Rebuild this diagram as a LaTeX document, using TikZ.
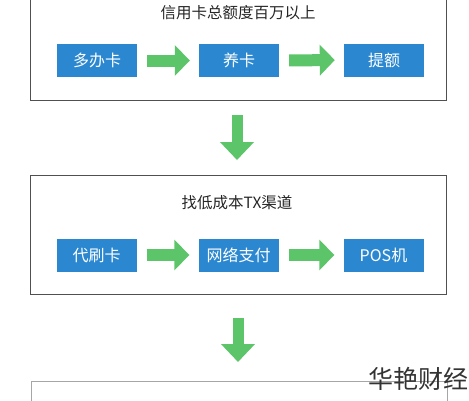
\documentclass[tikz,border=0pt]{standalone}
\usepackage{fontspec}
\setmainfont{Noto Sans CJK SC}
\usetikzlibrary{arrows.meta}
\definecolor{boxblue}{HTML}{2B88D0}
\definecolor{arrgreen}{HTML}{5CC56A}
\definecolor{frame}{HTML}{505050}
\tikzset{
  frame/.style={draw=frame, line width=1.3pt, fill=white},
  bluebox/.style={fill=boxblue, text=white, minimum width=80pt, minimum height=33pt, inner sep=0pt, font=\fontsize{16}{16}\selectfont},
  title/.style={text=black!85, font=\fontsize{15.5}{15.5}\selectfont, inner sep=0pt},
  harrow/.style={draw=arrgreen, line width=12pt, -{Triangle[width=30pt,length=15pt]}, shorten <=10pt, shorten >=9pt},
  varrow/.style={draw=arrgreen, line width=11pt, -{Triangle[width=33pt,length=18pt]}, shorten <=15pt, shorten >=15pt}
}
\begin{document}
\begin{tikzpicture}[x=1pt,y=-1pt]
\useasboundingbox[fill=white] (0,0) rectangle (469,400);
% frames
\node[frame, anchor=north west, minimum width=416pt, minimum height=110pt, inner sep=0pt] (f1) at (30,-10) {};
\node[frame, anchor=north west, minimum width=416pt, minimum height=119pt, inner sep=0pt] (f2) at (30,175) {};
\node[draw=black!35, line width=1pt, fill=white, anchor=north west, minimum width=416pt, minimum height=40pt, inner sep=0pt] (f3) at (31,381) {};
% titles
\node[title] (t1) at (238,13) {信用卡总额度百万以上};
\node[title] (t2) at (237,203) {找低成本TX渠道};
% row 1
\node[bluebox] (a1) at (97,60.5) {多办卡};
\node[bluebox] (a2) at (239,60.5) {养卡};
\node[bluebox] (a3) at (384,60) {提额};
\draw[harrow] (a1.east) -- (a2.west);
\draw[harrow] (a2.east) -- (a3.west);
% row 2
\node[bluebox] (b1) at (96.5,255) {代刷卡};
\node[bluebox] (b2) at (238.5,255) {网络支付};
\node[bluebox] (b3) at (383.5,255) {POS机};
\draw[harrow] (b1.east) -- (b2.west);
\draw[harrow] (b2.east) -- (b3.west);
% vertical arrows
\draw[varrow] (237,100) coordinate (c1) -- (237,175) coordinate (c2);
\draw[varrow, shorten <=24pt, shorten >=19pt] (238,294) coordinate (c3) -- (238,381) coordinate (c4);
% watermark
\node[text=black!80, font=\fontsize{25}{25}\selectfont, anchor=east, inner sep=0pt] (wm) at (469,379) {华艳财经};
\end{tikzpicture}
\end{document}
